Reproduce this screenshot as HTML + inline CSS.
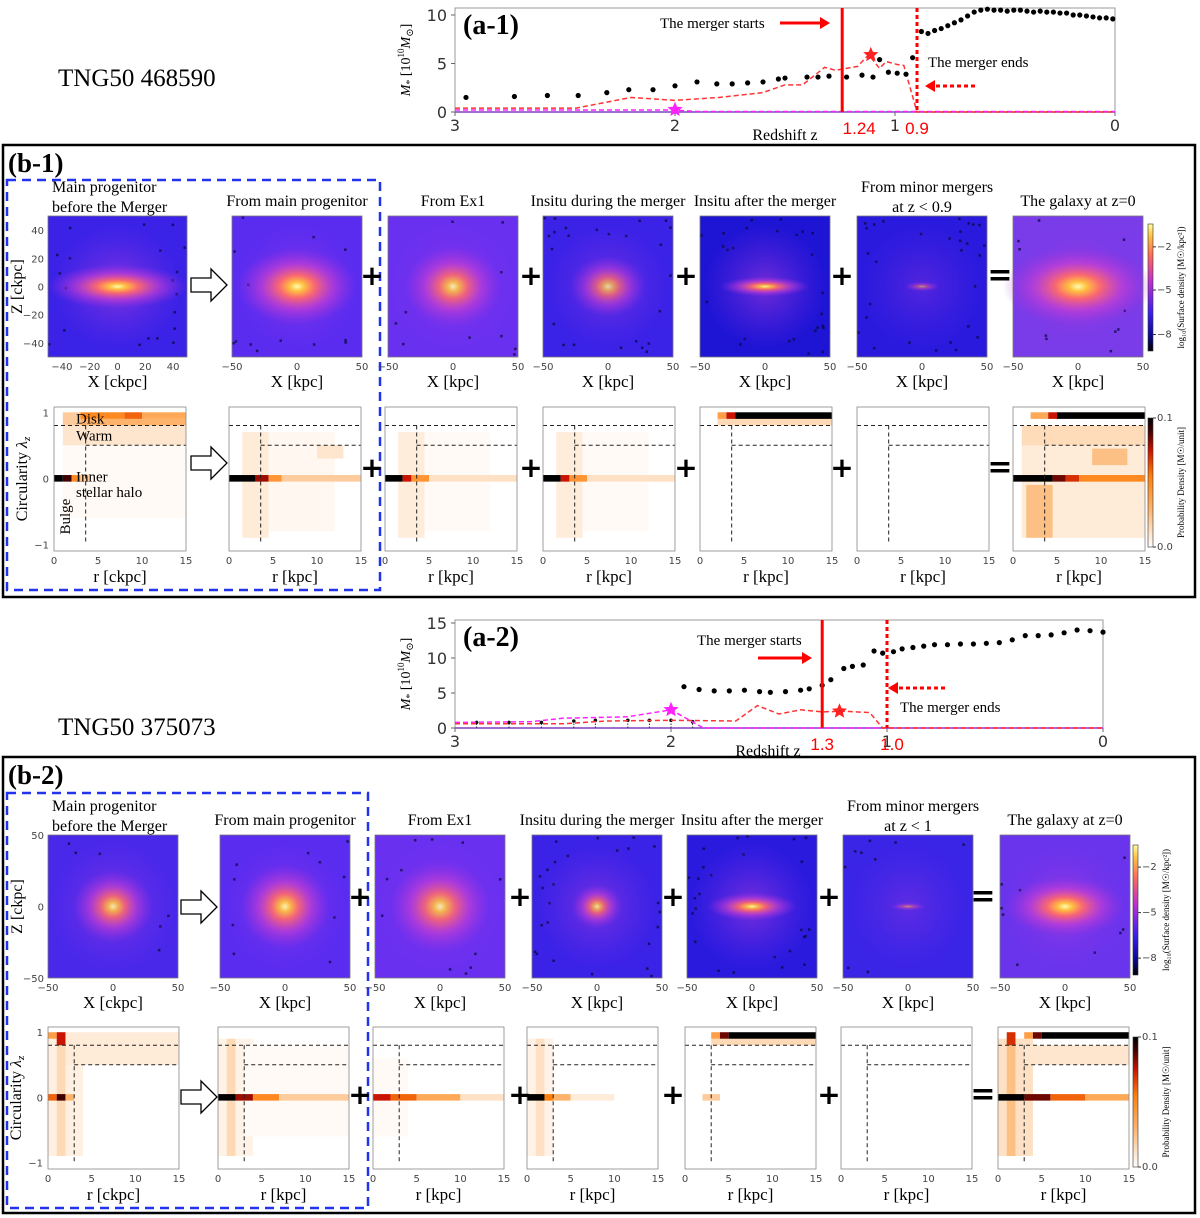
<!DOCTYPE html>
<html><head><meta charset="utf-8">
<style>
html,body{margin:0;padding:0;background:#fff;}
svg{display:block;font-family:"Liberation Serif","DejaVu Serif",serif;}
.tk{font-family:"DejaVu Sans","Liberation Sans",sans-serif;font-size:10px;fill:#444;}
.sans{font-family:"DejaVu Sans","Liberation Sans",sans-serif;}
.lsans{font-family:"Liberation Sans","DejaVu Sans",sans-serif;}
</style></head>
<body>
<svg id="fig" width="1200" height="1218" viewBox="0 0 1200 1218" xmlns="http://www.w3.org/2000/svg">
<defs>
<linearGradient id="cbImg" x1="0" y1="1" x2="0" y2="0">
<stop offset="0" stop-color="#000"/><stop offset="0.12" stop-color="#0a0a90"/><stop offset="0.3" stop-color="#3a1ef0"/><stop offset="0.55" stop-color="#c030d0"/><stop offset="0.75" stop-color="#ff6a5a"/><stop offset="0.9" stop-color="#ffc040"/><stop offset="1" stop-color="#ffffa0"/>
</linearGradient>
<linearGradient id="cbProb" x1="0" y1="1" x2="0" y2="0">
<stop offset="0" stop-color="#fff"/><stop offset="0.3" stop-color="#fdb36b"/><stop offset="0.55" stop-color="#ff7f0e"/><stop offset="0.75" stop-color="#c81400"/><stop offset="0.9" stop-color="#400000"/><stop offset="1" stop-color="#000"/>
</linearGradient>
<radialGradient id="blob">
<stop offset="0" stop-color="#ffffb0"/><stop offset="0.12" stop-color="#ffc040"/><stop offset="0.3" stop-color="#ff6a6a" stop-opacity="0.95"/><stop offset="0.6" stop-color="#d040d0" stop-opacity="0.6"/><stop offset="1" stop-color="#a030e0" stop-opacity="0"/>
</radialGradient>
<radialGradient id="halo">
<stop offset="0" stop-color="#c040d8" stop-opacity="0.8"/><stop offset="1" stop-color="#8030e8" stop-opacity="0"/>
</radialGradient>
</defs>
</svg>
<script>
// ---------- Data: mass history (a-1) ----------
const a1MainZ=[2.95,2.73,2.58,2.44,2.31,2.21,2.10,2.00,1.90,1.81,1.74,1.67,1.60,1.53,1.50,1.40,1.35,1.30,1.22,1.15,1.10,1.07,1.03,0.99,0.95,0.92,0.88,0.85,0.82,0.79,0.76,0.73,0.70,0.67,0.64,0.61,0.58,0.55,0.52,0.49,0.46,0.43,0.40,0.37,0.34,0.31,0.28,0.25,0.22,0.19,0.16,0.13,0.10,0.07,0.04,0.01];
const a1MainM=[1.5,1.6,1.7,1.7,2.0,2.3,2.3,2.7,3.1,2.9,2.9,3.0,3.1,3.4,3.5,3.6,3.6,3.7,3.6,3.8,3.6,5.4,4.1,4.0,3.9,5.6,8.3,8.1,8.4,8.6,8.9,9.2,9.5,9.9,10.3,10.5,10.6,10.5,10.5,10.4,10.5,10.5,10.4,10.3,10.4,10.3,10.3,10.2,10.2,10.0,10.0,9.9,9.8,9.7,9.7,9.6];
const a1RedZ=[3.0,2.45,2.2,2.0,1.8,1.6,1.5,1.42,1.32,1.27,1.17,1.12,1.07,1.04,0.99,0.96,0.90,0.0];
const a1RedM=[0.4,0.4,1.5,1.2,1.5,2.0,2.8,2.8,4.6,4.3,4.7,5.9,4.5,5.2,4.9,4.8,0.0,0.0];
const a1MagZ=[3.0,2.0,1.9,0.0];
const a1MagM=[0.2,0.2,0.05,0.05];
const a1Stars=[[1.11,5.9,'#f22'],[2.0,0.25,'#f2f']];
// ---------- Data: mass history (a-2) ----------
const a2MainZ=[1.94,1.87,1.80,1.73,1.66,1.59,1.54,1.47,1.40,1.36,1.30,1.26,1.20,1.16,1.11,1.06,1.02,0.97,0.93,0.88,0.83,0.78,0.72,0.66,0.60,0.54,0.48,0.42,0.36,0.30,0.24,0.18,0.12,0.06,0.0];
const a2MainM=[5.9,5.5,5.3,5.3,5.4,5.2,5.1,5.2,5.4,5.6,6.1,6.9,8.5,8.8,9.0,11.0,10.7,10.9,11.3,11.5,11.7,11.9,11.9,12.0,12.0,12.1,12.2,12.6,13.2,13.2,13.3,13.6,14.0,13.9,13.7];
const a2RedZ=[3.0,2.5,2.3,2.0,1.7,1.6,1.5,1.4,1.3,1.2,1.08,1.02,0.0];
const a2RedM=[0.6,0.6,1.0,1.1,1.0,3.2,2.0,2.6,2.3,2.4,2.2,0.0,0.0];
const a2MagZ=[3.0,2.65,2.5,2.2,2.0,1.85,0.0];
const a2MagM=[0.8,0.9,1.4,1.6,2.6,0.0,0.0];
const a2SmallZ=[2.9,2.75,2.6,2.45,2.35,2.2,2.1,2.0,1.9];
const a2SmallM=[0.8,0.8,0.8,1.0,1.1,1.1,1.1,1.1,0.9];
const a2Stars=[[1.22,2.4,'#f22'],[2.0,2.6,'#f2f']];
const zTicks=[3,2,1,0];

const NS='http://www.w3.org/2000/svg';
const svg=document.getElementById('fig');
function mk(tag,attrs,parent){const e=document.createElementNS(NS,tag);for(const k in attrs)e.setAttribute(k,attrs[k]);(parent||svg).appendChild(e);return e;}
function txt(s,x,y,attrs,parent){const e=mk('text',Object.assign({x:x,y:y},attrs),parent);e.textContent=s;return e;}
function star(cx,cy,r,fill,g){let p=[];for(let i=0;i<10;i++){const a=-Math.PI/2+i*Math.PI/5;const rr=i%2?r*0.45:r;p.push((cx+rr*Math.cos(a)).toFixed(1)+','+(cy+rr*Math.sin(a)).toFixed(1));}return mk('polygon',{points:p.join(' '),fill:fill},g);}

function massChart(o){
  const g=mk('g',{});
  
  
  const X=z=>o.l+(3-z)/3*(o.r-o.l);
  const Y=m=>o.b-m*o.py;
  const fr=mk('rect',{x:o.l,y:o.t,width:o.r-o.l,height:o.b-o.t,fill:'#fff',stroke:'#999','stroke-width':1},g);
  
  
  o.yt.forEach(v=>{const t=txt(String(v),o.l-8,Y(v)+6,{'text-anchor':'end','font-size':16,fill:'#333','class':'sans'},g);
    
    
    mk('line',{x1:o.l-4,x2:o.l,y1:Y(v),y2:Y(v),stroke:'#666'},g);});
  zTicks.forEach(v=>{const t=txt(String(v),X(v),o.b+19,{'text-anchor':'middle','font-size':16,fill:'#333','class':'sans'},g);
    
    
    mk('line',{x1:X(v),x2:X(v),y1:o.b,y2:o.b+4,stroke:'#666'},g);});
  const bl=mk('line',{x1:X(3),x2:X(0),y1:Y(0),y2:Y(0),stroke:'#8040c0','stroke-width':1.5},g);
  
  
  if(o.sz){o.sz.forEach((z,i)=>{mk('line',{x1:X(z),x2:X(z),y1:Y(0),y2:Y(o.sm[i]),stroke:'#333','stroke-dasharray':'1.5,1.5'},g);const c=mk('circle',{cx:X(z),cy:Y(o.sm[i]),r:1.8,fill:'#111'},g);
    
    });}
  const mag=mk('polyline',{points:o.mz.map((z,i)=>X(z)+','+Y(o.mm[i])).join(' '),fill:'none',stroke:'#f2f','stroke-width':1.5,'stroke-dasharray':'5,3'},g);
  
  
  const red=mk('polyline',{points:o.rz.map((z,i)=>X(z)+','+Y(o.rm[i])).join(' '),fill:'none',stroke:'#f33','stroke-width':1.5,'stroke-dasharray':'5,3'},g);
  
  
  o.pz.forEach((z,i)=>{const c=mk('circle',{cx:X(z),cy:Y(o.pm[i]),r:2.6,fill:'#000'},g);
    
    });
  o.stars.forEach(s=>{const st=star(X(s[0]),Y(s[1]),8,s[2],g);
    
    });
  const ms=mk('line',{x1:X(o.zs),x2:X(o.zs),y1:o.t,y2:o.b,stroke:'#f00','stroke-width':3},g);
  
  
  const me=mk('line',{x1:X(o.ze),x2:X(o.ze),y1:o.t,y2:o.b,stroke:'#f00','stroke-width':3,'stroke-dasharray':'4,3'},g);
  
  
  const l1=txt(o.zsl,X(o.zs)+(o.zsOff||0),o.b+22,{'text-anchor':'middle','font-size':17,fill:'#f00','class':'lsans'},g);
  
  
  const l2=txt(o.zel,X(o.ze)+(o.zeOff||0),o.b+22,{'text-anchor':'middle','font-size':17,fill:'#f00','class':'lsans'},g);
  
  
  const xt=txt('Redshift z',o.xlx,o.b+28,{'text-anchor':'middle','font-size':16},g);
  
  
  const yt=txt('',0,0,{'text-anchor':'middle','font-size':14,transform:'translate('+(o.l-45)+','+((o.t+o.b)/2)+') rotate(-90)'},g);
  yt.innerHTML='<tspan font-style="italic">M</tspan><tspan font-size="10" dy="3">*</tspan><tspan dy="-3"> [10</tspan><tspan font-size="9" dy="-6">10</tspan><tspan dy="6" font-style="italic">M</tspan><tspan font-size="10" dy="3">⊙</tspan><tspan dy="-3">]</tspan>';
  
  
  const pl=txt(o.label,o.l+8,o.t+26,{'font-size':28,'font-weight':'bold'},g);
  
  
  const st=txt('The merger starts',o.sx,o.sy,{'font-size':15},g);
  
  
  const sa=mk('g',{},g);
  
  
  mk('line',{x1:o.sa[0],x2:o.sa[1]-8,y1:o.sa[2],y2:o.sa[2],stroke:'#f00','stroke-width':3},sa);
  mk('polygon',{points:(o.sa[1])+','+o.sa[2]+' '+(o.sa[1]-10)+','+(o.sa[2]-6)+' '+(o.sa[1]-10)+','+(o.sa[2]+6),fill:'#f00'},sa);
  const et=txt('The merger ends',o.ex,o.ey,{'font-size':15},g);
  
  
  const ea=mk('g',{},g);
  
  
  mk('line',{x1:o.ea[0],x2:o.ea[1]+8,y1:o.ea[2],y2:o.ea[2],stroke:'#f00','stroke-width':3,'stroke-dasharray':'4,3'},ea);
  mk('polygon',{points:(o.ea[1])+','+o.ea[2]+' '+(o.ea[1]+10)+','+(o.ea[2]-6)+' '+(o.ea[1]+10)+','+(o.ea[2]+6),fill:'#f00'},ea);
}

massChart({name:'mass-history-a1',label:'(a-1)',l:455,r:1115,t:8,b:112,py:9.7,yt:[0,5,10],
  pz:a1MainZ,pm:a1MainM,rz:a1RedZ,rm:a1RedM,mz:a1MagZ,mm:a1MagM,stars:a1Stars,zs:1.24,ze:0.9,zsl:'1.24',zel:'0.9',zsOff:17,zeOff:0,xlx:785,
  sx:660,sy:28,sa:[780,830,23],ex:928,ey:67,ea:[975,925,86]});
massChart({name:'mass-history-a2',label:'(a-2)',l:455,r:1103,t:620,b:728,py:7.0,yt:[0,5,10,15],
  pz:a2MainZ,pm:a2MainM,rz:a2RedZ,rm:a2RedM,mz:a2MagZ,mm:a2MagM,sz:a2SmallZ,sm:a2SmallM,stars:a2Stars,zs:1.3,ze:1.0,zsl:'1.3',zel:'1.0',zsOff:0,zeOff:5,xlx:768,
  sx:697,sy:645,sa:[758,812,658],ex:900,ey:712,ea:[945,888,688]});

[['TNG50 468590',58,86],['TNG50 375073',58,735]].forEach(a=>{const t=txt(a[0],a[1],a[2],{'font-size':25});
  
  });

[[3,145,1192,452,'(b-1)',7,8,180,373,410],[3,757,1192,456,'(b-2)',7,8,793,361,415]].forEach(b=>{
  const r=mk('rect',{x:b[0],y:b[1],width:b[2],height:b[3],fill:'none',stroke:'#000','stroke-width':2.5});
  
  
  const d=mk('rect',{x:b[5],y:b[7],width:b[8],height:b[9],fill:'none',stroke:'#2233ee','stroke-width':2.5,'stroke-dasharray':'9,6'});
  
  
  const t=txt(b[4],b[6],b[1]+27,{'font-size':27,'font-weight':'bold'});
  
  
});

// ---------- Heatmap data (circularity vs r): [r0,r1,lam0,lam1,density] ----------
const hm1=[
 [[1,15,-0.6,0.5,0.002],[1,15,0.5,0.8,0.01],[1,3,0.8,1.0,0.02],[3,15,0.8,0.9,0.03],[3,8,0.9,1.0,0.05],[8,10,0.9,1.0,0.06],[10,15,0.9,1.0,0.035],[0,1,-0.05,0.05,0.1],[1,2,-0.05,0.05,0.09],[2,3,-0.05,0.05,0.05],[3,4,-0.05,0.05,0.02]],
 [[1.5,4.5,-0.9,0.7,0.008],[4.5,12,-0.8,0.7,0.003],[10,13,0.3,0.5,0.01],[0,3,-0.05,0.05,0.1],[3,4.5,-0.05,0.05,0.08],[4.5,6,-0.05,0.05,0.045],[6,15,-0.05,0.05,0.02]],
 [[1.5,4.5,-0.9,0.7,0.007],[4.5,12,-0.8,0.7,0.002],[0,2,-0.05,0.05,0.1],[2,3,-0.05,0.05,0.075],[3,5,-0.05,0.05,0.045],[5,15,-0.05,0.05,0.012]],
 [[1.5,4.5,-0.9,0.7,0.007],[4.5,12,-0.8,0.7,0.002],[0,2,-0.05,0.05,0.1],[2,3,-0.05,0.05,0.075],[3,5,-0.05,0.05,0.045],[5,15,-0.05,0.05,0.012]],
 [[2,15,0.8,0.9,0.015],[2,3,0.9,1.0,0.04],[3,4,0.9,1.0,0.075],[4,15,0.9,1.0,0.1]],
 [],
 [[1,15,-0.9,0.7,0.008],[1.5,4.5,-0.9,-0.1,0.025],[1,15,0.5,0.8,0.014],[9,13,0.2,0.45,0.025],[2,4,0.9,1.0,0.035],[4,5,0.9,1.0,0.075],[5,15,0.9,1.0,0.1],[0,4.5,-0.05,0.05,0.1],[4.5,6,-0.05,0.05,0.085],[6,7.5,-0.05,0.05,0.07],[7.5,15,-0.05,0.05,0.05]]
];
const hm2=[
 [[0,4,-0.9,0.9,0.006],[1,2,-0.9,0.9,0.015],[2,15,0.5,1.0,0.008],[0,1,0.9,1.0,0.04],[1,2,0.8,1.0,0.075],[0,1,-0.05,0.05,0.06],[1,2,-0.05,0.05,0.09],[2,3,-0.05,0.05,0.03]],
 [[0,4,-0.9,0.9,0.005],[1,2,-0.9,0.9,0.015],[3,15,-0.6,0.8,0.002],[0,2,-0.05,0.05,0.1],[2,4,-0.05,0.05,0.08],[4,7,-0.05,0.05,0.05],[7,15,-0.05,0.05,0.02]],
 [[0,4,-0.6,0.6,0.002],[0,2,-0.05,0.05,0.075],[2,5,-0.05,0.05,0.06],[5,10,-0.05,0.05,0.035],[10,15,-0.05,0.05,0.012]],
 [[0,3,-0.9,0.9,0.005],[1,2,-0.9,0.9,0.012],[0,2,-0.05,0.05,0.1],[2,3,-0.05,0.05,0.055],[3,5,-0.05,0.05,0.03],[5,10,-0.05,0.05,0.008]],
 [[3,15,0.8,0.9,0.015],[3,4,0.9,1.0,0.04],[4,5,0.9,1.0,0.085],[5,15,0.9,1.0,0.1],[2,4,-0.05,0.05,0.02]],
 [],
 [[0,4,-0.9,0.9,0.012],[1,2,-0.9,0.9,0.025],[3,15,0.5,0.8,0.01],[1,2,0.8,1.0,0.07],[3,4,0.9,1.0,0.04],[4,5,0.9,1.0,0.085],[5,15,0.9,1.0,0.1],[0,3,-0.05,0.05,0.1],[3,6,-0.05,0.05,0.085],[6,10,-0.05,0.05,0.06],[10,15,-0.05,0.05,0.035]]
];

function cmap(v){const t=Math.max(0,Math.min(1,v/0.1));
  const s=[[0,255,255,255],[0.3,253,179,107],[0.55,255,127,14],[0.75,200,20,0],[0.9,64,0,0],[1,0,0,0]];
  for(let i=1;i<s.length;i++){if(t<=s[i][0]){const f=(t-s[i-1][0])/(s[i][0]-s[i-1][0]);const c=[1,2,3].map(k=>Math.round(s[i-1][k]+f*(s[i][k]-s[i-1][k])));return 'rgb('+c.join(',')+')';}}return '#000';}

const imgStyle1=[['#3a22e6',70,22,1],['#5a2cf0',60,38,1],['#6a30f0',48,40,0.9],['#3a22e6',38,30,0.8],['#1e14d4',45,10,0.95],['#2a1ade',18,5,0.5],['#7a3ce8',75,40,1]];
const imgStyle2=[['#4a28ea',40,36,0.9],['#5a2cf0',45,42,0.95],['#6a30f0',50,45,0.9],['#3a22e6',25,22,0.85],['#2a1ade',45,14,0.95],['#3a24e6',18,4,0.5],['#6a34ec',60,30,1]];

let seed=7;
function rnd(){seed=(seed*16807)%2147483647;return seed/2147483647;}

function imgPanel(x,y,w,h,st,xt,xl,yt,title,tl2,idx){
  const g=mk('g',{});
  
  
  mk('rect',{x:x,y:y,width:w,height:h,fill:st[0]},g);
  const nsp=(st[0]==='#1e14d4'||st[0]==='#2a1ade'||st[0]==='#3a22e6')?45:20;
  for(let i=0;i<nsp;i++){const px=x+rnd()*(w-3);const py=y+rnd()*(h-3);
    const dx=(px-x-w/2)/(w/2),dy=(py-y-h/2)/(h/2);
    if(dx*dx+dy*dy<0.55)continue;
    mk('rect',{x:px,y:py,width:2.5,height:2.5,fill:'#0a0840',opacity:0.75},g);}
  mk('ellipse',{cx:x+w/2,cy:y+h/2,rx:w*0.48,ry:h*0.45,fill:'url(#halo)',opacity:st[3]*0.7},g);
  mk('ellipse',{cx:x+w/2,cy:y+h/2,rx:st[1],ry:st[2],fill:'url(#blob)',opacity:st[3]},g);
  mk('rect',{x:x,y:y,width:w,height:h,fill:'none',stroke:'#777','stroke-width':0.8},g);
  xt.forEach(v=>{const px=x+(v+50)/100*w;const t=txt(String(v).replace('-','−'),px,y+h+13,{'class':'tk','text-anchor':'middle'},g);
    
    });
  const xlab=txt(xl,x+w/2,y+h+30,{'font-size':17,'text-anchor':'middle'},g);
  
  
  if(yt){yt.forEach(v=>{const py=y+(50-v)/100*h;const t=txt(String(v).replace('-','−'),x-4,py+4,{'class':'tk','text-anchor':'end'},g);
    
    });
    const ylab=txt('Z [ckpc]',0,0,{'font-size':16,'text-anchor':'middle',transform:'translate('+(x-26)+','+(y+h/2)+') rotate(-90)'},g);
    
    }
  if(tl2){const a=txt(title,x+4,y-24,{'font-size':16},g);
    
    
    const b=txt(tl2,x+(idx%7===5?w/2:4),y-4,{'font-size':16,'text-anchor':idx%7===5?'middle':'start'},g);
    
    }
  else{const a=txt(title,x+w/2,y-10,{'font-size':16,'text-anchor':'middle'},g);
    
    }
}

function circPanel(x,y,w,h,cells,rcut,xl,showY,labels,idx){
  const g=mk('g',{});
  
  
  const X=r=>x+r/15*w;
  const Y=l=>y+(1.08-l)/2.18*h;
  mk('rect',{x:x,y:y,width:w,height:h,fill:'#fff'},g);
  cells.forEach(c=>{const rc=mk('rect',{x:X(c[0]),y:Y(c[3]),width:X(c[1])-X(c[0]),height:Y(c[2])-Y(c[3]),fill:cmap(c[4])},g);
    
    });
  const dl={stroke:'#222','stroke-width':1,'stroke-dasharray':'4,3'};
  mk('line',Object.assign({x1:x,x2:x+w,y1:Y(0.8),y2:Y(0.8)},dl),g);
  mk('line',Object.assign({x1:X(rcut),x2:x+w,y1:Y(0.5),y2:Y(0.5)},dl),g);
  mk('line',Object.assign({x1:X(rcut),x2:X(rcut),y1:Y(0.8),y2:Y(-1)},dl),g);
  mk('rect',{x:x,y:y,width:w,height:h,fill:'none',stroke:'#888','stroke-width':0.8},g);
  [0,5,10,15].forEach(v=>{const t=txt(String(v),X(v),y+h+13,{'class':'tk','text-anchor':'middle'},g);
    
    });
  const xlab=txt(xl,x+w/2,y+h+31,{'font-size':17,'text-anchor':'middle'},g);
  
  
  if(showY){[1,0,-1].forEach(v=>{const t=txt(String(v).replace('-','−'),x-5,Y(v)+4,{'class':'tk','text-anchor':'end'},g);
    
    });
    const yl=txt('',0,0,{'font-size':16,'text-anchor':'middle',transform:'translate('+(x-27)+','+(y+h/2)+') rotate(-90)'},g);
    yl.innerHTML='Circularity <tspan font-style="italic">λ</tspan><tspan font-size="11" dy="3" font-style="italic">z</tspan>';
    
    }
  if(labels){
    [['Disk',X(2.5),Y(0.83)],['Warm',X(2.5),Y(0.57)],['Inner',X(2.5),Y(-0.05)],['stellar halo',X(2.5),Y(-0.28)]].forEach(a=>{const t=txt(a[0],a[1],a[2],{'font-size':15},g);
      
      });
    const b=txt('Bulge',0,0,{'font-size':15,transform:'translate('+(X(1.8))+','+(Y(-0.85))+') rotate(-90)'},g);
    
    
  }
}

function operator(kind,x,y){
  const g=mk('g',{});
  
  
  if(kind==='arrow'){mk('polygon',{points:(x-18)+','+(y-7)+' '+(x+2)+','+(y-7)+' '+(x+2)+','+(y-16)+' '+(x+18)+','+y+' '+(x+2)+','+(y+16)+' '+(x+2)+','+(y+7)+' '+(x-18)+','+(y+7),fill:'#fff',stroke:'#000','stroke-width':1.3},g);}
  else{txt(kind,x,y+9,{'font-size':kind==='+'?28:30,'font-weight':'bold','text-anchor':'middle','class':'sans'},g);}
}

function colorbar(x,y,h,grad,ticks,label){
  const g=mk('g',{});
  
  
  mk('rect',{x:x,y:y,width:5,height:h,fill:'url(#'+grad+')',stroke:'#333','stroke-width':0.6},g);
  ticks.forEach(t=>{const py=y+t[1]*h;mk('line',{x1:x+5,x2:x+8,y1:py,y2:py,stroke:'#333'},g);
    const tt=txt(t[0],x+9,py+3,{'class':'tk','font-size':9},g);
    
    });
  const l=txt(label,0,0,{'font-size':9,'text-anchor':'middle',transform:'translate('+(x+36)+','+(y+h/2)+') rotate(-90)'},g);
  
  
}

const titles1=['Main progenitor','From main progenitor','From Ex1','Insitu during the merger','Insitu after the merger','From minor mergers','The galaxy at z=0'];
const imgX1=[48,232,388,543,700,857,1013];
imgX1.forEach((x,i)=>{const w=i===0?139:130;
  imgPanel(x,216,w,141,imgStyle1[i],i===0?[-40,-20,0,20,40]:[-50,0,50],i===0?'X [ckpc]':'X [kpc]',i===0?[40,20,0,-20,-40]:null,
    titles1[i],i===0?'before the Merger':(i===5?'at z < 0.9':null),i);});
const circX1=[54,229,385,543,700,857,1013];
circX1.forEach((x,i)=>circPanel(x,407,132,144,hm1[i],3.6,i===0?'r [ckpc]':'r [kpc]',i===0,i===0,i));
operator('arrow',209,285);operator('arrow',209,463);
[372,531,686,842].forEach(x=>{operator('+',x,276);operator('+',x,468);});
operator('=',1000,276);operator('=',1000,468);
colorbar(1148,224,127,'cbImg',[['−2',0.18],['−5',0.52],['−8',0.87]],'log₁₀(Surface density [M☉/kpc²])');
colorbar(1148,418,129,'cbProb',[['0.1',0.0],['0.0',1.0]],'Probability Density [M☉/unit]');

const imgX2=[48,220,375,532,687,843,1000];
imgX2.forEach((x,i)=>{imgPanel(x,835,130,143,imgStyle2[i],[-50,0,50],i===0?'X [ckpc]':'X [kpc]',i===0?[50,0,-50]:null,
    titles1[i],i===0?'before the Merger':(i===5?'at z < 1':null),i+7);});
const circX2=[48,218,373,527,685,841,998];
circX2.forEach((x,i)=>circPanel(x,1027,131,142,hm2[i],3.0,i===0?'r [ckpc]':'r [kpc]',i===0,false,i+7));
operator('arrow',199,907);operator('arrow',199,1097);
[360,520,673,829].forEach(x=>{operator('+',x,897);operator('+',x,1095);});
operator('=',983,897);operator('=',983,1095);
colorbar(1133,845,130,'cbImg',[['−2',0.17],['−5',0.52],['−8',0.87]],'log₁₀(Surface density [M☉/kpc²])');
colorbar(1133,1037,130,'cbProb',[['0.1',0.0],['0.0',1.0]],'Probability Density [M☉/unit]');
</script>
</body></html>
